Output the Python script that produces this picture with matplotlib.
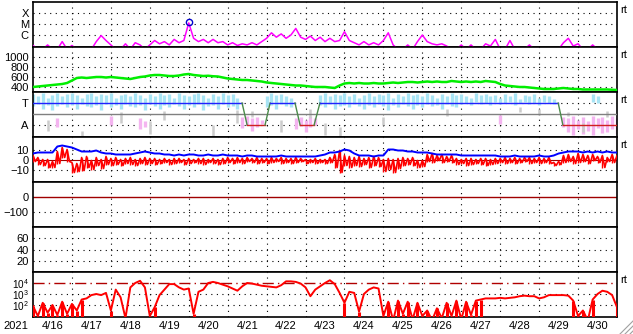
import numpy as np
import matplotlib
matplotlib.use("Agg")
import matplotlib.pyplot as plt
from matplotlib.lines import Line2D

plt.rcParams['font.family'] = ['Liberation Sans', 'DejaVu Sans']
plt.rcParams['mathtext.default'] = 'regular'
nan = np.nan

# time grid: 3 hour steps from 4/16 00UT to 5/1 00UT (days since 4/16)
t = np.arange(121) / 8.0
day_labels = ['4/16', '4/17', '4/18', '4/19', '4/20', '4/21', '4/22', '4/23',
              '4/24', '4/25', '4/26', '4/27', '4/28', '4/29', '4/30']
year_label = '2021'

# GOES X-ray flux, log10(W/m2)
xray = [-6.95, -7.3, -7.3, -6.9, -7.3, -7.3, -6.6, -7.3, -6.95, -7.3, -7.3, -7.3, -7.3, -6.6, -6.05, -6.5,
        -6.9, -7.3, -7.3, -6.8, -7.3, -6.7, -6.9, -7.3, -6.9, -6.5, -6.8, -6.6, -6.9, -6.4, -6.7, -6.5,
        -4.9, -6.3, -6.6, -6.4, -6.7, -6.4, -6.7, -6.6, -6.9, -6.7, -6.95, -6.8, -6.9, -6.7, -6.9, -6.6,
        -6.3, -5.8, -6.2, -5.9, -6.3, -6.0, -5.4, -6.2, -6.4, -6.1, -6.5, -6.2, -6.6, -6.3, -6.6, -6.5,
        -5.7, -6.5, -6.7, -6.9, -6.6, -6.9, -6.7, -6.9, -6.5, -5.8, -6.9, -7.3, -7.3, -6.9, -7.3, -6.6,
        -6.0, -6.6, -6.8, -6.9, -6.8, -7.0, -7.3, -7.3, -6.9, -7.3, -6.9, -7.3, -7.3, -6.8, -7.0, -6.4,
        -7.3, -7.3, -6.5, -7.3, -7.3, -7.3, -6.9, -7.3, -7.3, -7.3, -7.3, -7.3, -7.3, -6.7, -6.3, -7.0,
        -6.8, -7.3, -7.3, -6.9, -7.3, -7.3, -7.3, -7.3, -7.3]
flare_time = [4.0]
flare_level = [-4.85]

# solar wind speed (km/s)
speed = [400, 410, 420, 430, 440, 450, 460, 480, 530, 580, 590, 580, 590, 600, 600, 590,
         600, 590, 580, 570, 560, 580, 600, 610, 630, 640, 640, 630, 620, 620, 630, 650,
         660, 640, 630, 620, 625, 615, 610, 590, 570, 560, 550, 540, 540, 530, 520, 510,
         490, 480, 470, 460, 450, 440, 430, 430, 420, 410, 400, 400, 400, 390, 380, 430,
         470, 480, 470, 480, 470, 470, 480, 470, 470, 480, 490, 480, 490, 500, 500, 490,
         500, 510, 500, 510, 500, 500, 520, 510, 500, 510, 500, 510, 500, 520, 510, 500,
         460, 430, 420, 410, 400, 400, 390, 380, 370, 360, 360, 360, 370, 380, 370, 360,
         360, 350, 350, 350, 350, 350, 350, 345, 340]

# IMF sector: T = +1, A = -1
sector_t = [0, 5.37, 5.50, 5.96, 6.09, 6.73, 6.86, 7.22, 7.37, 13.49, 13.61, 15]
sector_v = [1, 1, -1, -1, 1, 1, -1, -1, 1, 1, -1, -1]
# spread of "toward" field angles
phi_t_hi = [1.8, 1.6, 1.9, 1.5, 1.7, 1.9, 1.6, 1.8, 1.9, 1.7, 1.5, 1.8, 1.9, 1.6, 1.8, 1.7,
            1.9, 1.5, 1.7, 1.8, 1.6, 1.9, 1.7, 1.5, 1.8, 1.6, 1.9, 1.7, 1.8, 1.5, 1.9, 1.7,
            1.6, 1.8, 1.9, 1.7, 1.5, 1.8, 1.6, 1.9, 1.7, 1.8, 1.5, nan, nan, nan, nan, nan,
            1.6, 1.9, 1.7, 1.8, 1.6, 1.5, nan, nan, nan, nan, nan, 1.7, 1.9, 1.6, 1.8, 1.7,
            1.9, 1.6, 1.8, 1.5, 1.7, 1.9, 1.6, 1.8, 1.7, 1.9, 1.5, 1.8, 1.6, 1.9, 1.7, 1.8,
            1.6, 1.9, 1.7, 1.5, 1.8, 1.6, 1.9, 1.7, 1.8, 1.6, 1.5, 1.9, 1.7, 1.8, 1.6, 1.7,
            1.5, 1.8, 1.6, 1.9, 1.4, 1.7, 1.6, 1.8, 1.5, 1.7, 1.6, 1.4, nan, nan, nan, nan,
            nan, nan, nan, 1.8, 1.6, nan, nan, nan, nan]
phi_t_lo = [0.7, 0.9, 0.5, 0.8, 0.4, 0.7, 0.9, 0.6, 0.8, 0.5, 0.9, 0.7, 0.6, 0.8, 0.4, 0.9,
            0.6, 0.8, 0.5, 0.9, 0.7, 0.6, 0.8, 0.4, 0.9, 0.7, 0.5, 0.8, 0.6, 0.9, 0.7, 0.5,
            0.8, 0.6, 0.9, 0.4, 0.7, 0.8, 0.5, 0.9, 0.6, 0.7, 0.5, nan, nan, nan, nan, nan,
            0.6, 0.8, 0.5, 0.9, 0.7, 0.6, nan, nan, nan, nan, nan, 0.8, 0.6, 0.9, 0.5, 0.7,
            0.8, 0.6, 0.9, 0.7, 0.5, 0.8, 0.6, 0.9, 0.7, 0.4, 0.8, 0.6, 0.9, 0.7, 0.5, 0.8,
            0.6, 0.9, 0.7, 0.8, 0.5, 0.9, 0.7, 0.6, 0.9, 1.0, 0.8, 1.1, 0.9, 1.0, 0.8, 1.1,
            0.9, 1.0, 1.1, 0.8, 1.0, 1.1, 0.9, 1.0, 0.8, 1.1, 1.0, 0.9, nan, nan, nan, nan,
            nan, nan, nan, 1.1, 1.0, nan, nan, nan, nan]
# "away" field angles
away_idx = [5, 16, 22, 23, 43, 44, 45, 46, 47, 54, 55, 56, 57, 58, 96,
            109, 110, 111, 112, 113, 114, 115, 116, 117, 118, 119, 120]
away_hi = [-0.4, -0.2, -0.4, -0.6, -0.3, -0.2, -0.4, -0.3, -0.5, -0.4, -0.3, -0.5, -0.2, -0.4, -0.1,
           -0.3, -0.4, -0.2, -0.5, -0.3, -0.6, -0.2, -0.4, -0.3, -0.5, -0.2, -0.4]
away_lo = [-1.2, -1.0, -1.4, -1.2, -1.3, -1.0, -1.5, -1.2, -0.9, -1.4, -1.1, -1.6, -1.2, -1.0, -0.9,
           -1.2, -1.6, -1.9, -1.4, -1.8, -1.5, -1.9, -1.3, -1.7, -1.6, -1.4, -1.8]
# undetermined angles
mixed_idx = [3, 10, 18, 24, 27, 37, 42, 45, 51, 57, 60, 63, 72, 85, 100, 104, 110, 113, 118, 120]
mixed_hi = [-0.5, -1.5, 0.2, -0.6, 0.3, -1.0, 0.4, 0.3, -0.5, 0.5,
            -0.8, -1.2, -0.3, 0.5, 0.6, 0.5, 0.2, -0.8, 0.3, -1.0]
mixed_lo = [-1.5, -2.0, -0.8, -1.8, -0.5, -2.0, -0.8, -0.3, -1.6, -0.4,
            -1.9, -2.0, -1.0, -0.2, 0.2, -0.1, -0.2, -1.6, -0.3, -1.8]

# IMF Bt (nT)
bt = [6, 7, 7, 7, 7, 13, 14, 13, 12, 10, 8, 8, 8, 9, 7, 6,
      6, 5, 5, 5, 5, 6, 7, 8, 7, 6, 6, 5, 5, 4, 5, 4,
      5, 5, 4, 4, 5, 4, 4, 5, 4, 4, 4, 3, 4, 4, 3, 3,
      3, 3, 3, 4, 3, 3, 3, 3, 3, 3, 3, 4, 5, 7, 7, 8,
      10, 9, 6, 4, 4, 4, 3, 4, 4, 10, 10, 9, 9, 8, 8, 7,
      7, 7, 6, 5, 5, 5, 5, 5, 4, 4, 4, 4, 4, 4, 4, 4,
      3, 3, 3, 4, 3, 3, 3, 3, 4, 3, 3, 4, 6, 7, 8, 8,
      8, 7, 8, 7, 8, 7, 8, 7, 7]
# IMF Bz range in each 3 h bin (nT)
bz_hi = [4, 2, 0, 0, -2, 8, 12, 10, -3, -4, 2, 3, -1, 2, 0, 3,
         1, 2, 0, 1, 2, 0, 1, 2, 1, 1, 0, 1, 0, 1, 1, 0,
         1, 0, 1, 1, 0, 1, 0, 1, 2, 1, 2, 1, 2, 1, 2, 1,
         1, 2, 1, 2, 1, 1, 2, 1, 0, 0, 1, 0, 0, 2, 5, 9,
         4, 3, 2, 3, 1, 2, 3, 2, 0, 1, 0, 1, 2, 1, 2, -1,
         -1, 5, 6, 4, 5, 3, 4, 1, 0, 1, 1, 0, 1, 1, 0, 1,
         1, 2, 1, 2, 1, 2, 2, 1, 2, 1, 2, -3, -2, 4, 5, 3,
         6, 5, 4, 5, 3, 4, 2, 5, 4]
bz_lo = [-2, -5, -6, -8, -8, -4, 2, -2, -13, -12, -11, -8, -10, -6, -9, -5,
         -6, -5, -6, -4, -5, -6, -4, -5, -4, -5, -4, -3, -5, -4, -3, -5,
         -4, -3, -4, -5, -3, -4, -5, -4, -3, -4, -3, -4, -2, -3, -4, -3,
         -4, -3, -2, -4, -3, -4, -3, -2, -4, -3, -4, -3, -4, -3, -8, -13,
         -6, -8, -6, -7, -5, -8, -6, -7, -12, -10, -13, -9, -6, -5, -6, -8,
         -7, -2, -3, -1, -3, -2, -3, -5, -4, -6, -5, -4, -5, -6, -5, -4,
         -3, -4, -3, -4, -3, -2, -4, -3, -4, -3, -4, -6, -5, -3, -2, -4,
         -3, -2, -4, -1, -3, -8, -2, -3, -2]

# >2 MeV electron flux, log10
eflux = [1.9, 1.0, 2.2, 1.3, 2.0, 1.1, 2.3, 1.2, 2.1, 1.5, 2.5, 2.6, 2.9, 3.0, 2.9, 3.1,
         1.5, 3.4, 2.7, 0.8, 3.6, 4.0, 4.2, 3.6, 1.0, 1.8, 2.9, 3.4, 3.9, 3.9, 3.6, 3.4,
         3.5, 1.2, 3.2, 3.4, 4.0, 4.1, 4.0, 3.85, 3.7, 3.5, 3.3, 3.7, 4.0, 3.95, 3.85, 3.75,
         3.7, 3.65, 3.6, 3.8, 4.15, 4.15, 4.1, 3.95, 3.6, 2.8, 3.4, 3.7, 4.0, 4.25, 3.9, 3.1,
         2.2, 3.2, 3.1, 1.4, 3.0, 3.4, 3.6, 3.5, 1.0, 2.3, 0.6, 2.4, 1.2, 2.3, 0.7, 2.2,
         1.0, 1.5, 0.6, 1.7, 0.8, 2.2, 1.0, 2.4, 0.7, 2.3, 1.1, 2.4, 2.5, 2.6, 2.6, 2.6,
         2.65, 2.6, 2.65, 2.7, 2.8, 2.85, 2.8, 2.8, 2.6, 2.7, 2.9, 2.9, 2.9, 2.9, 2.85, 2.4,
         1.0, 1.5, 0.6, 2.5, 3.0, 3.3, 3.2, 2.9, 1.8]

fig = plt.figure(figsize=(6.33, 3.34), dpi=100)
W, H = 633.0, 334.0
axes = []
for k in range(7):
    top = 2 + 45 * k
    ax = fig.add_axes([33 / W, 1 - (top + 45) / H, 584 / W, 45 / H])
    ax.set_xlim(0, 15)
    ax.set_xticks([])
    ax.tick_params(axis='y', length=0, pad=3, labelsize=8)
    for s in ax.spines.values():
        s.set_linewidth(1.2)
    axes.append(ax)

dot = (0, (1, 4))


def hgrid(ax, levels):
    for v in levels:
        ax.axhline(v, color='k', lw=0.8, ls=dot, zorder=1)


for ax in axes:
    for d in range(1, 15):
        ax.axvline(d, color='k', lw=0.8, ls=dot, zorder=1)

# panel 1: X-ray
ax = axes[0]
ax.set_ylim(-7.09, -3.0)
ax.set_yticks([-4, -5, -6], ['X', 'M', 'C'])
hgrid(ax, [-4, -5, -6])
ax.plot(t, xray, color='#ff00ff', lw=1.1, zorder=3)
ax.plot(flare_time, flare_level, 'o', mfc='none', mec='#0000cc', ms=4.5, mew=1, zorder=4)

# panel 2: solar wind speed
ax = axes[1]
ax.set_ylim(300, 1200)
ax.set_yticks([1000, 800, 600, 400])
hgrid(ax, [1000, 800, 600, 400])
ax.plot(t, speed, color='#00ee00', lw=1.8, zorder=3)

# panel 3: sector
ax = axes[2]
ax.set_ylim(-2.09, 2.0)
ax.set_yticks([1, -1], ['T', 'A'])
hgrid(ax, [1, -1])
ax.vlines(t, phi_t_lo, phi_t_hi, color='#a8e4f4', lw=2.4, zorder=2)
ax.vlines(t[away_idx], away_lo, away_hi, color='#f4b4f0', lw=2.4, zorder=2)
ax.vlines(t[mixed_idx], mixed_lo, mixed_hi, color='#cccccc', lw=1.8, zorder=2)
ax.axhline(0, color='#808080', lw=1.0, zorder=3)
for i in range(len(sector_t) - 1):
    v0, v1 = sector_v[i], sector_v[i + 1]
    if v0 != v1:
        c = '#4a8a4a'
    elif v0 > 0:
        c = '#2020ff'
    else:
        c = '#d02020'
    ax.plot(sector_t[i:i + 2], sector_v[i:i + 2], color=c, lw=1.0, zorder=4)

# panel 4: IMF
ax = axes[3]
ax.set_ylim(-22.5, 22.5)
ax.set_yticks([10, 0, -10])
hgrid(ax, [10, -10])
ax.axhline(0, color='#a00000', lw=0.8, zorder=1)
# Bz: zigzag between the high and low value of each bin
tz = np.column_stack([t, t + 1 / 16]).ravel()
bz_zig = np.column_stack([bz_hi, bz_lo]).ravel()
ax.vlines(t, bz_lo, bz_hi, color='#ff0000', lw=1.0, zorder=3)
ax.plot(tz, bz_zig, color='#ff0000', lw=1.2, zorder=3)
ax.plot(t, bt, color='#0000ff', lw=1.4, zorder=4)

# panel 5: Dst
ax = axes[4]
ax.set_ylim(-200, 100)
ax.set_yticks([0, -100])
hgrid(ax, [-100])
ax.axhline(0, color='#a00000', lw=1.0, zorder=1)

# panel 6
ax = axes[5]
ax.set_ylim(0, 80)
ax.set_yticks([60, 40, 20])
hgrid(ax, [60, 40, 20])

# panel 7: electron flux
ax = axes[6]
ax.set_ylim(0.91, 5.0)
ax.set_yticks([4, 3, 2], ['$10^4$', '$10^3$', '$10^2$'])
ax.tick_params(axis='y', labelsize=7.2)
hgrid(ax, [3, 2])
ax.axhline(4, color='#b00000', lw=1.0, ls=(0, (8, 3, 1, 3)), zorder=2)
ef = np.array(eflux)
low = ef < 2.6
ax.vlines(t[low], 0.91, ef[low], color='#ff0000', lw=2.2, zorder=3)
ax.plot(t, eflux, color='#ff0000', lw=1.4, zorder=3)
ax.set_xticks(np.arange(15) + 0.5, day_labels)
ax.tick_params(axis='x', length=0, pad=3, labelsize=8)

fig.text(16 / W, 1 - 326 / H, year_label, ha='center', va='center', fontsize=8)

for k in [0, 1, 2, 3, 6]:
    axes[k].text(1.006, 0.82, 'rt', transform=axes[k].transAxes, fontsize=8, va='center', ha='left')

# window resize grip
for o in [0, 5, 10]:
    fig.add_artist(Line2D([(620 + o) / W, (633) / W], [0, (13 - o) / H], color='#a0a0a0', lw=0.8))

fig.savefig('out.png', dpi=100, facecolor='white')
